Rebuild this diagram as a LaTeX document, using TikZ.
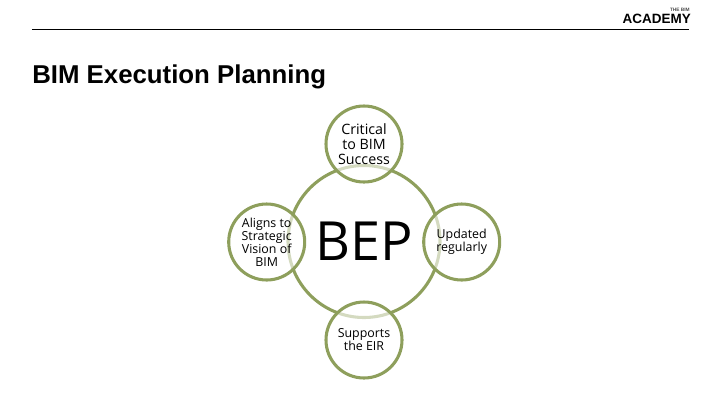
\documentclass[tikz,border=0pt]{standalone}
\usepackage{fontspec}
\setmainfont{Open Sans}
\newfontfamily\titlefont{Liberation Sans}
\definecolor{ringgreen}{HTML}{8E9F5C}
\begin{document}
\begin{tikzpicture}
    [x=0.75pt,y=-0.75pt,
    topic/.style={shape=circle,draw=ringgreen,line width=2.3pt,fill=white,fill opacity=0.62,text opacity=1,minimum size=57pt,inner sep=0pt,align=center,font=\fontsize{9.3}{9.75}\selectfont},
    hub/.style={shape=circle,draw=ringgreen,line width=2.3pt,minimum size=114pt,inner sep=0pt,font=\fontsize{40.5}{48}\selectfont}]
    \useasboundingbox (0,0) rectangle (720,405);
    \node (rule start) [inner sep=0pt] at (31,29) {};
    \node (rule end) [inner sep=0pt] at (690,29) {};
    \draw [line width=0.75pt] (rule start) -- (rule end);
    \node (brand) [inner sep=0pt,anchor=east,font=\titlefont\bfseries\fontsize{10.1}{11}\selectfont] at (691,18.5) {ACADEMY};
    \node (brand top) [inner sep=0pt,anchor=east,font=\titlefont\bfseries\fontsize{3.6}{4}\selectfont,text=black!70] at (690,9.5) {THE BIM};
    \node (title) [inner sep=0pt,anchor=west,font=\titlefont\bfseries\fontsize{19.35}{22}\selectfont] at (32,76.5) {BIM Execution Planning};
    \node [hub] (bep) at (364,241.5) {BEP};
    \node [topic,font=\fontsize{10.7}{11.25}\selectfont] (critical) at (364,144) {Critical\\to BIM\\Success};
    \node [topic] (aligns) at (266.7,242) {Aligns to\\Strategic\\Vision of\\BIM};
    \node [topic] (updated) at (461.7,242) {Updated\\regularly};
    \node [topic] (supports) at (364,340) {Supports\\the EIR};
\end{tikzpicture}
\end{document}
